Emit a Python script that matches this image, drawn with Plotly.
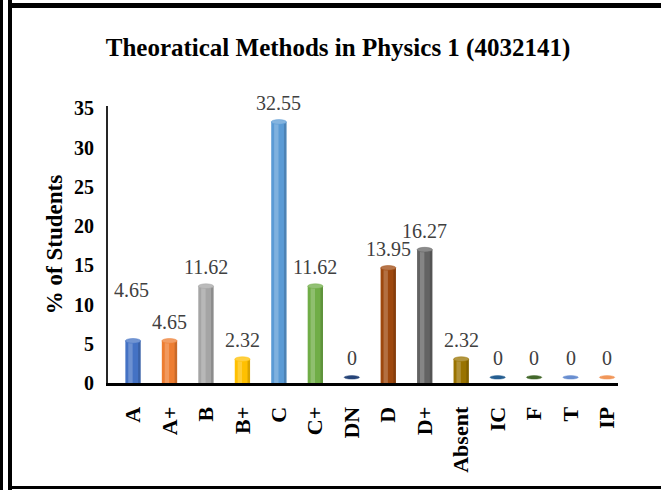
import plotly.graph_objects as go

# grade categories and share of students (%)
grades = ['A', 'A+', 'B', 'B+', 'C', 'C+', 'DN', 'D', 'D+', 'Absent', 'IC', 'F', 'T', 'IP']
percent = [4.65, 4.65, 11.62, 2.32, 32.55, 11.62, 0, 13.95, 16.27, 2.32, 0, 0, 0, 0]
bar_colors = ['#4472C4', '#ED7D31', '#A5A5A5', '#FFC000', '#5B9BD5', '#70AD47', '#264478',
              '#9E480E', '#636363', '#997300', '#255E91', '#43682B', '#698ED0', '#F1975A']
y_ticks = [0, 5, 10, 15, 20, 25, 30, 35]

W, H = 661, 490
L, R, T, B = 108, 43, 106, 107
SERIF = 'Liberation Serif'

# the 3d cylinders sit on a floor slightly above the axis line
lift = 0.72
half_w = 0.21
caps = [v + lift for v in percent]
bodies = [c if v > 0 else 0 for v, c in zip(percent, caps)]
pos = list(range(len(grades)))


def lighten(hex_color, f):
    r, g, b = (int(hex_color[i:i + 2], 16) for i in (1, 3, 5))
    r, g, b = (int(c + (255 - c) * f) for c in (r, g, b))
    return f'rgb({r},{g},{b})'


fig = go.Figure()
# cylinder body
fig.add_trace(go.Bar(x=pos, y=bodies, width=2 * half_w, offset=-half_w,
                     marker=dict(color=bar_colors, line=dict(width=0)),
                     customdata=percent, hovertemplate='%{customdata}<extra></extra>'))
# soft highlight and shadow on the body to suggest roundness
fig.add_trace(go.Bar(x=pos, y=bodies, width=0.12, offset=-0.13,
                     marker=dict(color='rgba(255,255,255,0.22)', line=dict(width=0)),
                     hoverinfo='skip'))
fig.add_trace(go.Bar(x=pos, y=bodies, width=0.07, offset=half_w - 0.07,
                     marker=dict(color='rgba(0,0,0,0.15)', line=dict(width=0)),
                     hoverinfo='skip'))

# elliptical caps (flat discs where the value is zero)
for i, (v, c) in enumerate(zip(percent, caps)):
    h = 0.3 if v > 0 else 0.22
    fill = lighten(bar_colors[i], 0.25) if v > 0 else bar_colors[i]
    fig.add_shape(type='circle', xref='x', yref='y',
                  x0=i - half_w, x1=i + half_w, y0=c - h, y1=c + h,
                  fillcolor=fill, line=dict(width=0.5, color=bar_colors[i]))

# value labels; the first one sits higher in the original
for i, (v, c) in enumerate(zip(percent, caps)):
    xs, ys = (-2, 38) if i == 0 else (0, 6)
    fig.add_annotation(x=i, y=c, text=f'{v:g}', showarrow=False, yanchor='bottom',
                       xshift=xs, yshift=ys, font=dict(family=SERIF, size=20, color='#404040'))


# frame drawn around the picture
def px_x(p):
    return (p - L) / (W - L - R)


def px_y(p):
    return (H - B - p) / (H - T - B)


frame = [((1.5, 0), (1.5, H), 3), ((10, 0), (10, H), 4),
         ((8, 5.5), (W, 5.5), 5), ((8, 487.5), (W, 487.5), 3)]
for (xa, ya), (xb, yb), w in frame:
    fig.add_shape(type='line', xref='paper', yref='paper',
                  x0=px_x(xa), y0=px_y(ya), x1=px_x(xb), y1=px_y(yb),
                  line=dict(color='black', width=w))

fig.update_layout(
    width=W, height=H, barmode='overlay', showlegend=False,
    plot_bgcolor='white', paper_bgcolor='white',
    margin=dict(l=L, r=R, t=T, b=B),
    title=dict(text='<b>Theoratical Methods in Physics 1 (4032141)</b>',
               x=338 / W, xanchor='center', y=1 - 47 / H, yanchor='middle',
               font=dict(family=SERIF, size=25, color='black')),
    xaxis=dict(tickmode='array', tickvals=pos, ticktext=[f'<b>{g}</b>' for g in grades],
               range=[-0.686, 13.3], tickangle=-90, showgrid=False, ticks='',
               showline=True, linecolor='black', linewidth=3, ticklabelstandoff=12,
               tickfont=dict(family=SERIF, size=22, color='black')),
    yaxis=dict(range=[0, 35.3], tickvals=y_ticks, ticktext=[f'<b>{t}</b>' for t in y_ticks],
               showgrid=False, zeroline=False, ticks='', ticklabelstandoff=8,
               showline=True, linecolor='#262626', linewidth=2,
               tickfont=dict(family=SERIF, size=20, color='black'),
               title=dict(text='<b>% of Students</b>', standoff=5,
                          font=dict(family=SERIF, size=23, color='black'))),
)

# drop the default page margin so the figure fills the window exactly
fig.write_html('out.html', config={'displayModeBar': False},
               post_script="document.body.style.margin='0';")
